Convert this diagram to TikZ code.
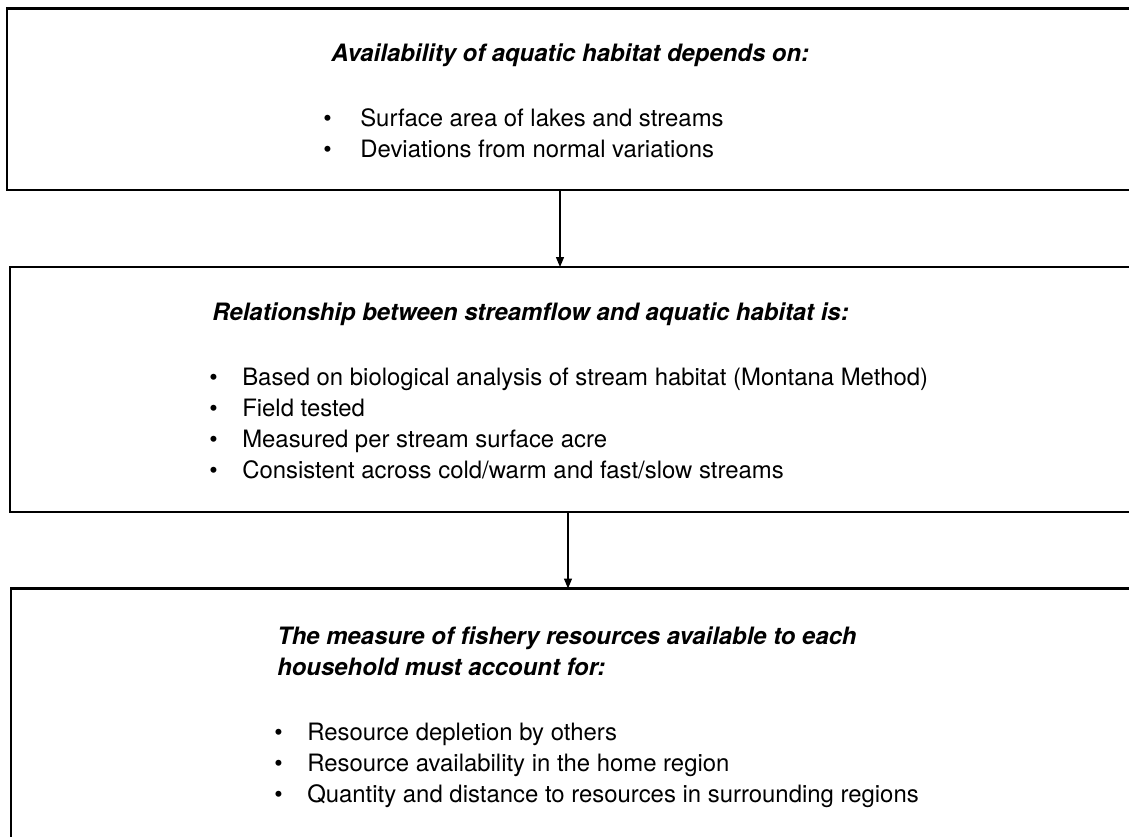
\documentclass[tikz,border=0pt]{standalone}
\usepackage{fontspec}
\setmainfont{TeX Gyre Heros}
\usetikzlibrary{arrows.meta}

\tikzset{
  panel/.style={draw, line width=2pt, anchor=north west, outer sep=0pt, inner sep=0pt, minimum width=29cm},
  heading/.style={anchor=base west, inner sep=0pt, align=left, font=\fontsize{17}{22}\selectfont\bfseries\itshape},
  items/.style={anchor=base west, inner sep=0pt, align=left, font=\fontsize{17}{22}\selectfont},
  flow/.style={line width=0.9pt, -{Triangle[length=0.25cm,width=0.2cm]}}
}
\newcommand{\itm}[2][0.825cm]{\makebox[#1][l]{\textbullet}#2}

\begin{document}
\begin{tikzpicture}[x=0.025cm, y=-0.025cm]
  \useasboundingbox (0,0) rectangle (1129,836);

  % boxes (run off the right edge of the page)
  \node[panel, minimum height=4.5375cm] (avail) at (7,8.5) {};
  \node[panel, minimum height=6.125cm] (relate) at (10,267) {};
  \node[panel, minimum height=7.25cm] (measure) at (11,588.5) {};

  % text blocks sit on the baseline of their last line
  \node[heading] (availT) at (331,61) {Availability of aquatic habitat depends on:};
  \node[items] (availL) at (323,157) {\itm[0.925cm]{Surface area of lakes and streams}\\
    \itm[0.925cm]{Deviations from normal variations}};

  \node[heading] (relateT) at (212,320) {Relationship between streamflow and aquatic habitat is:};
  \node[items] (relateL) at (209,478) {\itm{Based on biological analysis of stream habitat (Montana Method)}\\
    \itm{Field tested}\\
    \itm{Measured per stream surface acre}\\
    \itm{Consistent across cold/warm and fast/slow streams}};

  \node[heading] (measureT) at (277,675) {The measure of fishery resources available to each\\
    household must account for:};
  \node[items] (measureL) at (274,802) {\itm{Resource depletion by others}\\
    \itm{Resource availability in the home region}\\
    \itm{Quantity and distance to resources in surrounding regions}};

  \coordinate (drop1) at (560,0);
  \coordinate (drop2) at (568,0);
  \draw[flow] (avail.south -| drop1) -- (relate.north -| drop1);
  \draw[flow] (relate.south -| drop2) -- (measure.north -| drop2);
\end{tikzpicture}
\end{document}
